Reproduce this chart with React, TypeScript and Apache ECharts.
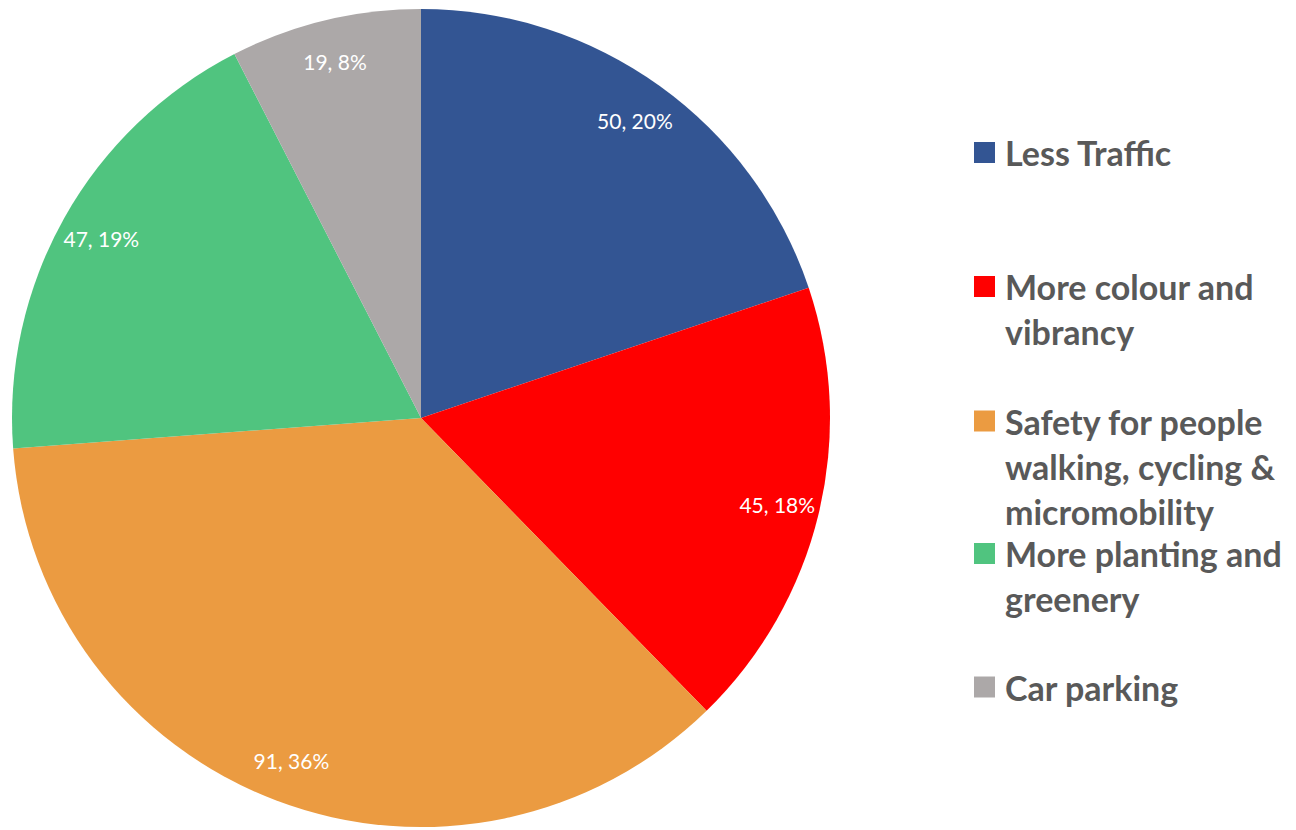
import React, { useEffect, useRef } from 'react';
import * as echarts from 'echarts';

const categories = [
  'Less Traffic',
  'More colour and vibrancy',
  'Safety for people walking, cycling & micromobility',
  'More planting and greenery',
  'Car parking',
];
const legendLines = [
  ['Less Traffic'],
  ['More colour and', 'vibrancy'],
  ['Safety for people', 'walking, cycling &', 'micromobility'],
  ['More planting and', 'greenery'],
  ['Car parking'],
];
const values = [50, 45, 91, 47, 19];
const colors = ['#335593', '#FF0000', '#EB9B41', '#50C47F', '#ACA8A8'];
const legendIconCenters = [152.5, 286.5, 421, 553.5, 687];

const LINE_H = 45;

export default function App() {
  const ref = useRef<HTMLDivElement>(null);
  useEffect(() => {
    const chart = echarts.init(ref.current!, null, { renderer: 'svg' });
    const total = values.reduce((a, b) => a + b, 0);
    const data = categories.map((name, i) => ({
      name,
      value: values[i],
      itemStyle: { color: colors[i] },
    }));
    const legends = categories.map((name, i) => {
      const L = legendLines[i].length;
      // pad with blank lines above so the first line sits level with the icon
      const padded = [...Array(L - 1).fill(' '), ...legendLines[i]];
      return {
        orient: 'vertical',
        left: 974,
        top: legendIconCenters[i] - ((2 * L - 1) * LINE_H) / 2,
        padding: 0,
        itemWidth: 21,
        itemHeight: 21,
        icon: 'rect',
        selectedMode: false,
        data: [{ name, itemStyle: { color: colors[i] } }],
        formatter: () => padded.join('\n'),
        textStyle: {
          fontFamily: 'Lato',
          fontWeight: 'bold',
          fontSize: 34,
          color: '#595959',
          lineHeight: LINE_H,
          padding: [0, 0, 0, 5],
        },
      };
    });
    chart.setOption({
      animation: false,
      legend: legends,
      series: [
        {
          type: 'pie',
          center: [421, 418],
          radius: 409,
          startAngle: 90,
          clockwise: true,
          data,
          label: { show: false },
          labelLine: { show: false },
          emphasis: { disabled: true },
          itemStyle: { borderWidth: 0 },
        },
        {
          type: 'pie',
          center: [421, 418],
          radius: [318, 409],
          startAngle: 90,
          clockwise: true,
          silent: true,
          data: categories.map((name, i) => ({
            name,
            value: values[i],
            itemStyle: { color: 'rgba(0,0,0,0)' },
          })),
          label: {
            show: true,
            position: 'inside',
            color: '#ffffff',
            fontFamily: 'Lato',
            fontSize: 21,
            formatter: (p: any) =>
              `${p.value}, ${Math.round((p.value / total) * 100)}%`,
          },
          labelLine: { show: false },
          emphasis: { disabled: true },
          itemStyle: { borderWidth: 0 },
        },
      ],
    });
    return () => chart.dispose();
  }, []);
  return (
    <div
      ref={ref}
      style={{ position: 'fixed', left: 0, top: 0, width: 1296, height: 830, background: '#fff' }}
    />
  );
}
